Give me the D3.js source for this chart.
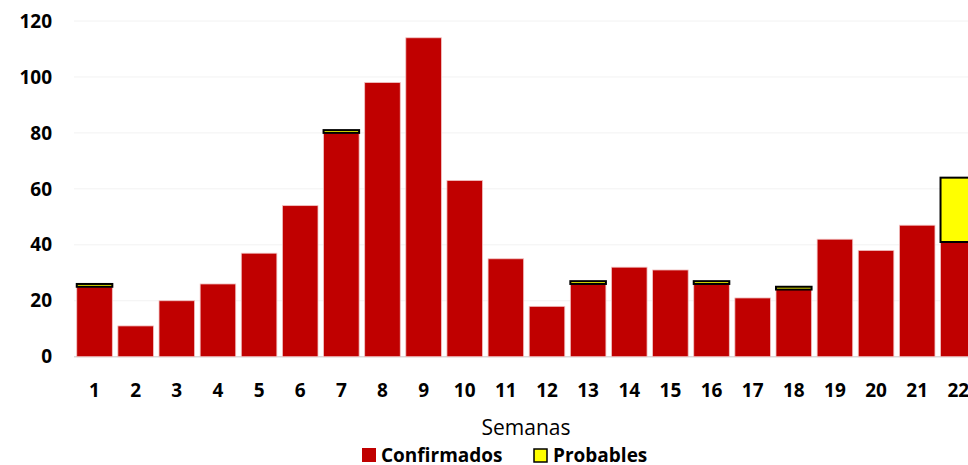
<!DOCTYPE html>
<html>
<head>
<meta charset="utf-8">
<script src="https://cdn.jsdelivr.net/npm/d3@7"></script>
<style>
  body { margin: 0; background: #fff; overflow: hidden; }
  text { font-family: "Open Sans", sans-serif; }
</style>
</head>
<body>
<script>
const semanas = ['1','2','3','4','5','6','7','8','9','10','11','12','13','14','15','16','17','18','19','20','21','22'];
const confirmados = [25, 11, 20, 26, 37, 54, 80, 98, 114, 63, 35, 18, 26, 32, 31, 26, 21, 24, 42, 38, 47, 41];
const probables = [1, 0, 0, 0, 0, 0, 1, 0, 0, 0, 0, 0, 1, 0, 0, 1, 0, 1, 0, 0, 0, 23];
const yTicks = [0, 20, 40, 60, 80, 100, 120];

const width = 968, height = 465;

const svg = d3.select('body')
  .append('svg')
    .attr('width', width)
    .attr('height', height);

const rows = semanas.map(function(s, i) {
  return { semana: s, Confirmados: confirmados[i], Probables: probables[i] };
});
const series = d3.stack().keys(['Confirmados', 'Probables'])(rows);

// plot runs off the right edge like the original screenshot
const x = d3.scaleBand()
  .domain(semanas)
  .range([74, 74 + 41.13 * semanas.length])
  .paddingInner(0.135)
  .paddingOuter(0.067);

const y = d3.scaleLinear()
  .domain([0, 120])
  .range([356.7, 21]);

// gridlines
svg.append('g')
  .selectAll('line')
  .data(yTicks)
  .join('line')
    .attr('x1', 74)
    .attr('x2', width)
    .attr('y1', d => y(d))
    .attr('y2', d => y(d))
    .attr('stroke', d => d === 0 ? '#d9d9d9' : '#f2f2f2')
    .attr('stroke-width', d => d === 0 ? 1.5 : 1);

// y labels
svg.append('g')
  .selectAll('text')
  .data(yTicks)
  .join('text')
    .attr('x', 52)
    .attr('y', d => y(d))
    .attr('dy', '0.35em')
    .attr('text-anchor', 'end')
    .style('font-size', '19px')
    .style('font-weight', 'bold')
    .attr('fill', '#000')
    .text(d => d);

// confirmados
svg.append('g')
  .selectAll('rect')
  .data(series[0])
  .join('rect')
    .attr('x', d => x(d.data.semana))
    .attr('width', x.bandwidth())
    .attr('y', d => y(d[1]))
    .attr('height', d => y(d[0]) - y(d[1]))
    .attr('fill', '#c00000')
    .attr('stroke', '#f2c4c4')
    .attr('stroke-width', 0.8);

// probables
svg.append('g')
  .selectAll('rect')
  .data(series[1].filter(d => d[1] > d[0]))
  .join('rect')
    .attr('x', d => x(d.data.semana))
    .attr('width', x.bandwidth())
    .attr('y', d => y(d[1]))
    .attr('height', d => y(d[0]) - y(d[1]))
    .attr('fill', '#ffff00')
    .attr('stroke', '#000')
    .attr('stroke-width', 2);

// x labels
svg.append('g')
  .selectAll('text')
  .data(semanas)
  .join('text')
    .attr('x', d => x(d) + x.bandwidth() / 2)
    .attr('y', 390)
    .attr('dy', '0.35em')
    .attr('text-anchor', 'middle')
    .style('font-size', '19px')
    .style('font-weight', 'bold')
    .attr('fill', '#000')
    .text(d => d);

svg.append('text')
  .attr('x', 526)
  .attr('y', 428)
  .attr('dy', '0.35em')
  .attr('text-anchor', 'middle')
  .style('font-size', '21px')
  .attr('fill', '#000')
  .text('Semanas');

// legend
const legend = svg.append('g');
legend.append('rect')
  .attr('x', 362).attr('y', 448).attr('width', 14).attr('height', 14)
  .attr('fill', '#c00000');
legend.append('text')
  .attr('x', 381).attr('y', 455).attr('dy', '0.35em')
  .style('font-size', '19px').style('font-weight', 'bold')
  .text('Confirmados');
legend.append('rect')
  .attr('x', 534).attr('y', 449).attr('width', 13).attr('height', 13)
  .attr('fill', '#ffff00').attr('stroke', '#000').attr('stroke-width', 1.5);
legend.append('text')
  .attr('x', 553).attr('y', 455).attr('dy', '0.35em')
  .style('font-size', '19px').style('font-weight', 'bold')
  .text('Probables');
</script>
</body>
</html>
